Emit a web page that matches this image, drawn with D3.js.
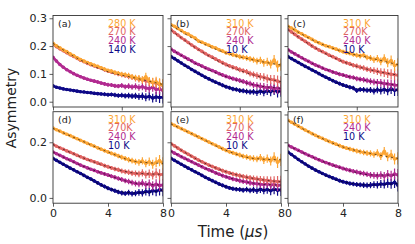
<!DOCTYPE html>
<html>
<head>
<meta charset="utf-8">
<script src="https://cdn.jsdelivr.net/npm/d3@7"></script>
<style>
  body { margin: 0; background: #fff; }
  text { font-family: "DejaVu Sans", sans-serif; }
</style>
</head>
<body>
<script>
// time grids (microseconds)
const tTop = [0,0.2,0.4,0.6,0.8,1.0,1.2,1.4,1.6,1.8,2.0,2.2,2.4,2.6,2.8,3.0,3.2,3.4,3.6,3.8,4.0,4.2,4.4,4.6,4.8,5.0,5.2,5.4,5.6,5.8,6.0,6.2,6.4];
const tBot = [0,0.25,0.5,0.75,1,1.25,1.5,1.75,2,2.25,2.5,2.75,3,3.25,3.5,3.75,4,4.25,4.5,4.75,5,5.25,5.5,5.75,6,6.25,6.5,6.75,7,7.25,7.5,7.75,8];
const errTop = [0.003,0.003,0.003,0.004,0.004,0.004,0.004,0.004,0.005,0.005,0.005,0.005,0.006,0.006,0.006,0.007,0.007,0.007,0.008,0.008,0.009,0.009,0.010,0.010,0.011,0.012,0.013,0.014,0.015,0.016,0.018,0.020,0.022];
const errBot = [0.003,0.003,0.003,0.004,0.004,0.004,0.004,0.004,0.005,0.005,0.005,0.005,0.006,0.006,0.006,0.007,0.007,0.007,0.008,0.008,0.009,0.009,0.010,0.010,0.011,0.012,0.013,0.014,0.015,0.016,0.018,0.020,0.022];
const fitTTop = [0, 1.6, 3.2, 4.8, 6.4];
const fitTBot = [0, 2, 4, 6, 8];

// panel (a)
const aLabels = ['280 K', '270 K', '240 K', '140 K'];
const a280 = [0.210,0.201,0.194,0.186,0.180,0.172,0.166,0.158,0.152,0.146,0.141,0.136,0.131,0.127,0.122,0.117,0.112,0.110,0.105,0.102,0.099,0.097,0.094,0.090,0.086,0.084,0.079,0.090,0.074,0.070,0.072,0.064,0.060];
const a270 = [0.207,0.198,0.190,0.183,0.176,0.169,0.163,0.156,0.149,0.144,0.138,0.133,0.129,0.124,0.120,0.115,0.110,0.107,0.103,0.100,0.097,0.094,0.091,0.088,0.084,0.081,0.078,0.075,0.072,0.069,0.066,0.062,0.058];
const a240 = [0.160,0.146,0.134,0.124,0.115,0.108,0.101,0.095,0.090,0.085,0.081,0.077,0.074,0.071,0.067,0.064,0.061,0.060,0.057,0.056,0.058,0.054,0.056,0.053,0.055,0.051,0.054,0.049,0.047,0.052,0.044,0.046,0.040];
const a140 = [0.057,0.052,0.049,0.046,0.044,0.042,0.040,0.038,0.036,0.035,0.033,0.032,0.030,0.029,0.028,0.027,0.025,0.026,0.024,0.022,0.023,0.021,0.022,0.020,0.021,0.018,0.020,0.016,0.019,0.013,0.017,0.015,0.016];
const aFits = [[0.210,0.150,0.108,0.085,0.062], null, null, null];

// panel (b)
const bLabels = ['310 K', '270K', '240 K', '10 K'];
const b310 = [0.277,0.271,0.263,0.256,0.248,0.243,0.235,0.229,0.218,0.214,0.208,0.203,0.197,0.193,0.187,0.182,0.176,0.173,0.169,0.166,0.162,0.160,0.157,0.154,0.151,0.146,0.149,0.140,0.143,0.135,0.150,0.128,0.133];
const b270 = [0.259,0.249,0.240,0.230,0.222,0.213,0.204,0.196,0.188,0.181,0.173,0.166,0.160,0.153,0.147,0.140,0.134,0.129,0.124,0.120,0.115,0.111,0.108,0.101,0.098,0.094,0.090,0.088,0.083,0.080,0.078,0.074,0.070];
const b240 = [0.189,0.181,0.174,0.167,0.160,0.153,0.147,0.139,0.134,0.128,0.122,0.117,0.112,0.107,0.101,0.096,0.091,0.087,0.083,0.080,0.076,0.073,0.068,0.065,0.060,0.058,0.055,0.053,0.050,0.052,0.047,0.049,0.046];
const b10 = [0.162,0.155,0.147,0.139,0.131,0.124,0.116,0.109,0.102,0.095,0.088,0.082,0.076,0.070,0.065,0.059,0.054,0.050,0.046,0.044,0.040,0.039,0.037,0.035,0.036,0.033,0.038,0.034,0.039,0.036,0.042,0.035,0.040];
const bFits = [[0.275,0.217,0.175,0.150,0.132],[0.257,0.187,0.132,0.096,0.072],[0.189,0.132,0.090,0.061,0.048],[0.162,0.102,0.054,0.037,0.036]];

// panel (c)
const cLabels = ['310 K', '270K', '240 K', '10 K'];
const c310 = [0.271,0.265,0.258,0.250,0.244,0.237,0.231,0.224,0.217,0.212,0.206,0.201,0.198,0.193,0.189,0.184,0.180,0.176,0.174,0.170,0.167,0.164,0.168,0.159,0.157,0.151,0.155,0.145,0.156,0.140,0.148,0.130,0.134];
const c270 = [0.260,0.251,0.242,0.233,0.225,0.217,0.209,0.200,0.193,0.186,0.180,0.174,0.167,0.162,0.156,0.150,0.144,0.140,0.136,0.131,0.128,0.124,0.121,0.117,0.114,0.112,0.109,0.106,0.104,0.101,0.099,0.097,0.095];
const c240 = [0.187,0.179,0.172,0.165,0.158,0.151,0.145,0.138,0.132,0.127,0.121,0.116,0.112,0.107,0.103,0.099,0.096,0.092,0.089,0.087,0.083,0.081,0.079,0.076,0.073,0.071,0.069,0.068,0.065,0.064,0.062,0.060,0.059];
const c10 = [0.162,0.155,0.148,0.141,0.134,0.127,0.121,0.114,0.108,0.101,0.094,0.088,0.082,0.076,0.070,0.065,0.060,0.056,0.052,0.049,0.040,0.044,0.043,0.041,0.042,0.038,0.043,0.040,0.044,0.039,0.046,0.041,0.043];
const cFits = [[0.272,0.217,0.180,0.157,0.133],[0.259,0.193,0.144,0.114,0.096],[0.187,0.132,0.096,0.073,0.060],[0.162,0.108,0.060,0.043,0.042]];

// panel (d)
const dLabels = ['310 K', '270K', '240 K', '10 K'];
const d310 = [0.251,0.245,0.240,0.234,0.229,0.224,0.218,0.213,0.207,0.202,0.196,0.191,0.186,0.180,0.175,0.170,0.165,0.160,0.156,0.151,0.146,0.142,0.137,0.134,0.130,0.128,0.133,0.124,0.130,0.121,0.128,0.134,0.124];
const d270 = [0.192,0.186,0.180,0.175,0.169,0.164,0.159,0.153,0.148,0.143,0.138,0.134,0.130,0.125,0.121,0.116,0.112,0.108,0.104,0.101,0.097,0.094,0.092,0.089,0.088,0.086,0.090,0.084,0.087,0.082,0.089,0.083,0.085];
const d240 = [0.165,0.159,0.153,0.147,0.141,0.136,0.130,0.124,0.118,0.113,0.108,0.103,0.099,0.094,0.090,0.086,0.082,0.078,0.074,0.070,0.066,0.062,0.059,0.055,0.052,0.050,0.054,0.047,0.051,0.044,0.049,0.045,0.046];
const d10 = [0.142,0.135,0.128,0.121,0.114,0.107,0.101,0.094,0.088,0.081,0.074,0.068,0.061,0.054,0.047,0.041,0.035,0.030,0.026,0.021,0.018,0.016,0.019,0.015,0.017,0.020,0.018,0.023,0.021,0.026,0.024,0.029,0.028];
const dFits = [[0.250,0.207,0.165,0.131,0.124],[0.192,0.148,0.112,0.089,0.085],[0.165,0.118,0.082,0.053,0.046],[0.142,0.088,0.035,0.018,0.027]];

// panel (e)
const eLabels = ['310 K', '270 K', '240 K', '10 K'];
const e310 = [0.267,0.261,0.255,0.249,0.243,0.237,0.231,0.225,0.219,0.213,0.207,0.201,0.195,0.189,0.183,0.177,0.171,0.166,0.162,0.158,0.154,0.150,0.147,0.144,0.142,0.140,0.145,0.136,0.141,0.133,0.146,0.128,0.137];
const e270 = [0.195,0.187,0.179,0.171,0.164,0.157,0.150,0.143,0.136,0.130,0.124,0.118,0.113,0.108,0.103,0.098,0.094,0.090,0.086,0.083,0.080,0.077,0.074,0.072,0.070,0.068,0.066,0.064,0.063,0.061,0.060,0.059,0.058];
const e240 = [0.168,0.161,0.155,0.148,0.142,0.136,0.130,0.124,0.118,0.112,0.106,0.101,0.096,0.090,0.085,0.080,0.076,0.072,0.068,0.065,0.062,0.059,0.057,0.054,0.052,0.051,0.049,0.048,0.050,0.046,0.048,0.045,0.046];
const e10 = [0.142,0.135,0.128,0.121,0.114,0.107,0.101,0.094,0.088,0.081,0.074,0.068,0.062,0.056,0.050,0.045,0.040,0.036,0.033,0.031,0.030,0.028,0.030,0.027,0.029,0.026,0.031,0.027,0.030,0.026,0.031,0.028,0.029];
const eFits = [[0.266,0.219,0.171,0.142,0.137],[0.195,0.136,0.094,0.070,0.058],[0.168,0.118,0.076,0.053,0.046],[0.142,0.088,0.040,0.030,0.029]];

// panel (f)
const fLabels = ['310 K', '240 K', '10 K'];
const f310 = [0.279,0.272,0.265,0.258,0.251,0.244,0.238,0.231,0.225,0.219,0.214,0.208,0.203,0.198,0.193,0.188,0.183,0.179,0.176,0.172,0.169,0.166,0.163,0.161,0.160,0.156,0.162,0.150,0.168,0.148,0.155,0.140,0.142];
const f240 = [0.189,0.183,0.177,0.171,0.165,0.159,0.153,0.148,0.142,0.137,0.132,0.127,0.123,0.118,0.114,0.110,0.106,0.102,0.099,0.096,0.093,0.090,0.088,0.085,0.082,0.081,0.079,0.082,0.078,0.084,0.080,0.086,0.082];
const f10 = [0.165,0.156,0.147,0.138,0.130,0.122,0.114,0.107,0.100,0.094,0.088,0.082,0.077,0.072,0.067,0.062,0.058,0.055,0.052,0.050,0.048,0.047,0.046,0.045,0.046,0.048,0.047,0.050,0.049,0.053,0.051,0.056,0.045];
const fFits = [[0.278,0.225,0.183,0.160,0.142],[0.189,0.142,0.106,0.083,0.082],[0.165,0.100,0.058,0.047,0.052]];

const orange = '#fca636', salmon = '#e16462', magenta = '#b12a90', navy = '#0d0887';

const W = 415, H = 244;
const svg = d3.select('body').append('svg').attr('width', W).attr('height', H);

const colX = [53, 171, 288], pw = 110;
const rowY = [15.5, 111.7], ph = 91.5;

const panels = [
  { tag: '(a)', r: 0, c: 0, labels: aLabels, ys: [a280, a270, a240, a140], fits: aFits, colors: [orange, salmon, magenta, navy], yt: [0, 0.1, 0.2, 0.3] },
  { tag: '(b)', r: 0, c: 1, labels: bLabels, ys: [b310, b270, b240, b10], fits: bFits, colors: [orange, salmon, magenta, navy], yt: [0, 0.1, 0.2, 0.3] },
  { tag: '(c)', r: 0, c: 2, labels: cLabels, ys: [c310, c270, c240, c10], fits: cFits, colors: [orange, salmon, magenta, navy], yt: [0, 0.1, 0.2, 0.3] },
  { tag: '(d)', r: 1, c: 0, labels: dLabels, ys: [d310, d270, d240, d10], fits: dFits, colors: [orange, salmon, magenta, navy], yt: [0, 0.2] },
  { tag: '(e)', r: 1, c: 1, labels: eLabels, ys: [e310, e270, e240, e10], fits: eFits, colors: [orange, salmon, magenta, navy], yt: [0, 0.2] },
  { tag: '(f)', r: 1, c: 2, labels: fLabels, ys: [f310, f240, f10], fits: fFits, colors: [orange, magenta, navy], yt: [0, 0.1, 0.2, 0.3] }
];

panels.forEach((p, pi) => {
  const top = p.r === 0;
  const t = top ? tTop : tBot;
  const err = top ? errTop : errBot;
  const ft = top ? fitTTop : fitTBot;
  const x = d3.scaleLinear().domain(top ? [0, 6.4] : [0, 8]).range([0, pw]);
  const y = d3.scaleLinear().domain([-0.019, 0.31]).range([ph, 0]);

  const g = svg.append('g').attr('transform', `translate(${colX[p.c]},${rowY[p.r]})`);
  svg.append('clipPath').attr('id', 'clip' + pi)
    .append('rect').attr('width', pw).attr('height', ph);

  const plot = g.append('g').attr('clip-path', `url(#clip${pi})`);
  // lowest series first so the warm colours sit on top
  for (let k = p.ys.length - 1; k >= 0; k--) {
    const col = p.colors[k];
    const pts = p.ys[k].map((v, i) => ({ t: t[i], v: v, e: err[i] }));
    plot.append('g').selectAll('line').data(pts).join('line')
      .attr('x1', d => x(d.t)).attr('x2', d => x(d.t))
      .attr('y1', d => y(d.v - d.e)).attr('y2', d => y(d.v + d.e))
      .attr('stroke', col).attr('stroke-width', 1.2);
    plot.append('path').datum(pts)
      .attr('d', d3.line().x(d => x(d.t)).y(d => y(d.v)))
      .attr('fill', 'none').attr('stroke', col)
      .attr('stroke-width', 2.6).attr('stroke-linejoin', 'round');
    plot.append('g').selectAll('circle').data(pts).join('circle')
      .attr('cx', d => x(d.t)).attr('cy', d => y(d.v)).attr('r', 1.8)
      .attr('fill', col);
  }
  p.fits.forEach(f => {
    if (!f) return;
    plot.append('path').datum(f.map((v, i) => [ft[i], v]))
      .attr('d', d3.line().curve(d3.curveMonotoneX).x(d => x(d[0])).y(d => y(d[1])))
      .attr('fill', 'none').attr('stroke', '#000').attr('stroke-opacity', 0.85)
      .attr('stroke-width', 0.7).attr('stroke-dasharray', '2,3.5');
  });

  // axes
  const ya = g.append('g').call(d3.axisLeft(y).tickValues(p.yt).tickSize(3.5)
    .tickFormat(p.c === 0 ? d3.format('.1f') : ''));
  const xa = g.append('g').attr('transform', `translate(0,${ph})`)
    .call(d3.axisBottom(x).tickValues(top ? [0, 4] : [0, 4, 8]).tickSize(3.5)
      .tickFormat(top ? '' : d3.format('d')));
  [ya, xa].forEach(a => {
    a.select('.domain').remove();
    a.selectAll('line').attr('stroke', '#333').attr('stroke-width', 0.8);
    a.selectAll('text').attr('font-size', 11).attr('fill', '#222')
      .attr('font-family', '"DejaVu Sans", sans-serif');
  });
  ya.selectAll('text').attr('x', -6);
  xa.selectAll('text').attr('y', 6);

  g.append('rect').attr('width', pw).attr('height', ph)
    .attr('fill', 'none').attr('stroke', '#333').attr('stroke-width', 0.9);

  g.append('text').attr('x', 5).attr('y', 11).attr('font-size', 9.5)
    .attr('fill', '#222').text(p.tag);

  g.append('g').selectAll('text').data(p.labels).join('text')
    .attr('x', 55).attr('y', (d, i) => 11.2 + i * 8.6)
    .attr('font-size', 9.6).attr('fill', (d, i) => p.colors[i])
    .text(d => d);
});

svg.append('text')
  .attr('transform', 'translate(16,108) rotate(-90)')
  .attr('text-anchor', 'middle').attr('font-size', 14).attr('fill', '#222')
  .text('Asymmetry');

const xl = svg.append('text').attr('x', 233).attr('y', 237)
  .attr('text-anchor', 'middle').attr('font-size', 15).attr('fill', '#222');
xl.append('tspan').text('Time (');
xl.append('tspan').attr('font-style', 'italic').text('μs');
xl.append('tspan').text(')');
</script>
</body>
</html>
